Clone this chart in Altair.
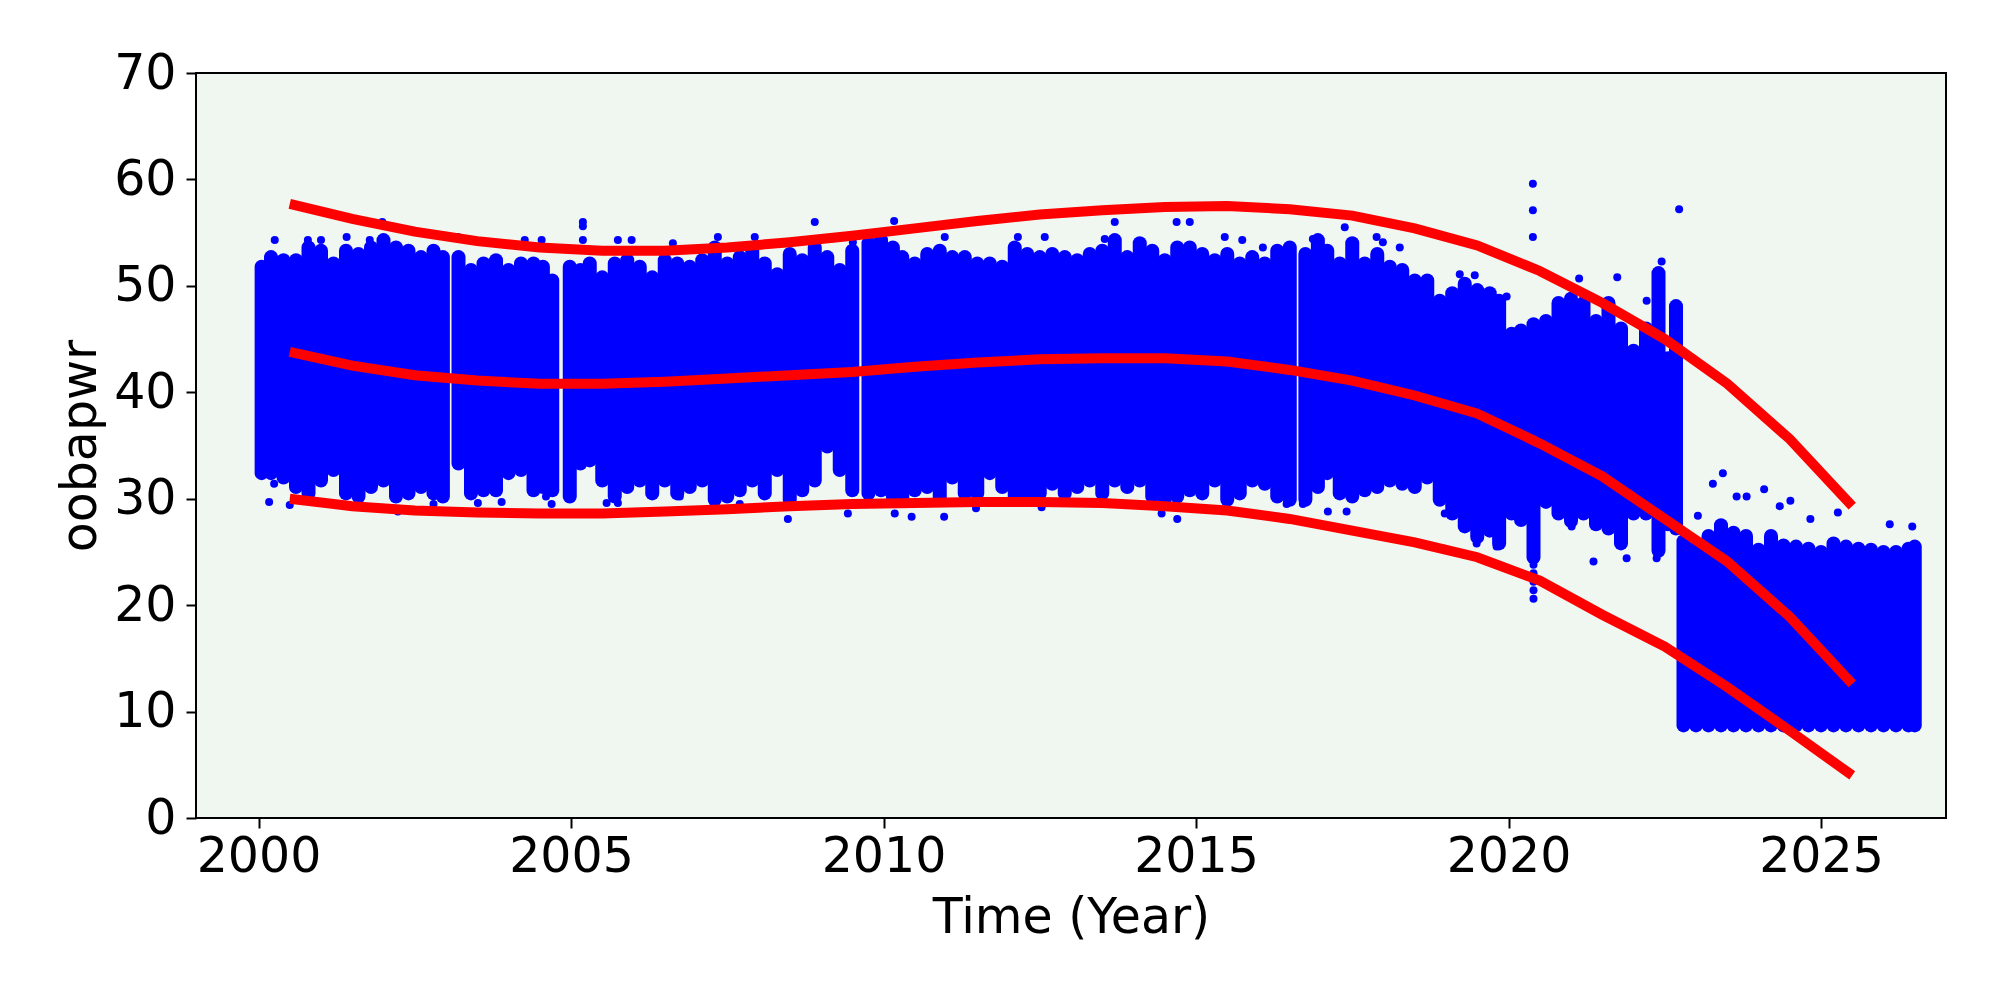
import altair as alt
import pandas as pd

# ---- dense scatter cloud, read as vertical extents (year, low, high) ----
cloud_x = [2000.05, 2000.2, 2000.4, 2000.6, 2000.8, 2001.0, 2001.2, 2001.4, 2001.6, 2001.8,
           2002.0, 2002.2, 2002.4, 2002.6, 2002.8, 2002.95, 2003.2, 2003.4, 2003.6, 2003.8,
           2004.0, 2004.2, 2004.4, 2004.55, 2004.7,
           2004.98, 2005.15, 2005.3, 2005.5, 2005.7, 2005.9, 2006.1, 2006.3, 2006.5, 2006.7,
           2006.9, 2007.1, 2007.3, 2007.5, 2007.7, 2007.9, 2008.1, 2008.3, 2008.5, 2008.7,
           2008.9, 2009.1, 2009.3, 2009.5,
           2009.76, 2009.96, 2010.15, 2010.3, 2010.5, 2010.7, 2010.9, 2011.1, 2011.3, 2011.5,
           2011.7, 2011.9, 2012.1, 2012.3, 2012.5, 2012.7, 2012.9, 2013.1, 2013.3, 2013.5,
           2013.7, 2013.9, 2014.1, 2014.3, 2014.5, 2014.7, 2014.9, 2015.1, 2015.3, 2015.5,
           2015.7, 2015.9, 2016.1, 2016.3, 2016.5,
           2016.75, 2016.95, 2017.1, 2017.3, 2017.5, 2017.7, 2017.9, 2018.1, 2018.3, 2018.5,
           2018.7, 2018.9, 2019.1, 2019.3, 2019.5, 2019.7, 2019.85,
           2020.05, 2020.2, 2020.4, 2020.6, 2020.8, 2021.0, 2021.2, 2021.4, 2021.6, 2021.8,
           2022.0, 2022.2, 2022.4, 2022.55, 2022.68,
           2022.8, 2023.0, 2023.2, 2023.4, 2023.6, 2023.8, 2024.0, 2024.2, 2024.4, 2024.6,
           2024.8, 2025.0, 2025.2, 2025.4, 2025.6, 2025.8, 2026.0, 2026.2, 2026.4, 2026.5]
cloud_hi = [51.8, 52.7, 52.4, 52.4, 53.6, 53.3, 52.1, 53.3, 53.0, 53.6,
            54.3, 53.6, 53.3, 52.7, 53.3, 52.7, 52.7, 51.5, 52.1, 52.4,
            51.5, 52.1, 52.1, 51.8, 50.5,
            51.8, 51.5, 52.1, 50.8, 52.1, 52.4, 51.8, 50.8, 52.4, 52.1,
            51.8, 52.4, 53.6, 52.1, 52.7, 53.3, 52.1, 51.1, 53.0, 52.4,
            53.6, 52.7, 51.5, 53.3,
            54.0, 54.3, 53.6, 52.7, 52.1, 53.0, 53.3, 52.7, 52.7, 52.1,
            52.1, 51.8, 53.6, 53.0, 52.7, 53.0, 52.7, 52.4, 53.0, 53.3,
            54.3, 52.7, 54.0, 53.3, 52.4, 53.6, 53.6, 53.0, 52.4, 53.0,
            52.1, 52.7, 52.1, 53.3, 53.6,
            53.0, 54.3, 53.3, 52.1, 54.0, 52.1, 53.0, 51.8, 51.5, 50.5,
            50.5, 48.6, 49.3, 50.2, 49.6, 49.3, 48.6,
            45.5, 45.8, 46.4, 46.7, 48.4, 48.8, 48.4, 46.7, 48.4, 46.0,
            43.9, 46.0, 51.2, 43.2, 48.1,
            26.0, 25.5, 26.5, 27.5, 26.8, 26.5, 25.2, 26.5, 25.6, 25.5,
            25.3, 25.0, 25.8, 25.5, 25.3, 25.2, 25.0, 25.0, 25.3, 25.5]
cloud_lo = [32.4, 32.4, 32.0, 31.1, 30.5, 31.7, 32.7, 30.5, 30.2, 31.1,
            31.7, 30.2, 30.5, 31.1, 30.5, 30.2, 33.3, 30.5, 30.8, 30.8,
            32.4, 32.7, 30.8, 31.1, 30.8,
            30.2, 33.3, 33.6, 31.7, 30.2, 31.1, 31.7, 30.5, 31.7, 30.5,
            31.1, 31.7, 29.9, 30.2, 30.8, 31.7, 30.5, 32.7, 29.9, 30.8,
            31.7, 34.9, 32.7, 30.8,
            30.5, 30.8, 30.2, 29.9, 30.8, 31.1, 29.9, 32.0, 30.5, 30.5,
            32.4, 31.1, 30.2, 29.9, 30.5, 31.4, 30.5, 31.1, 31.7, 30.5,
            31.7, 31.1, 31.7, 30.2, 29.9, 30.2, 30.8, 30.5, 31.7, 29.9,
            30.5, 31.7, 31.4, 30.2, 29.9,
            29.9, 31.1, 32.4, 30.5, 30.2, 30.8, 31.1, 31.7, 31.4, 31.1,
            32.0, 29.9, 28.6, 27.4, 26.4, 27.0, 25.8,
            28.6, 28.0, 24.5, 29.7, 28.6, 27.9, 28.6, 27.6, 27.2, 25.8,
            28.6, 28.6, 25.1, 27.6, 27.2,
            8.7, 8.7, 8.7, 8.7, 8.7, 8.7, 8.7, 8.7, 8.7, 8.7,
            8.7, 8.7, 8.7, 8.7, 8.7, 8.7, 8.7, 8.7, 8.7, 8.7]

# ---- isolated scatter points outside the dense mass ----
dot_x = [2000.26, 2000.79, 2001.0, 2001.41, 2001.78, 2001.98, 2003.19, 2004.26, 2004.53,
         2005.19, 2005.19, 2005.19, 2005.75, 2005.97, 2006.63,
         2007.35, 2007.94, 2008.9, 2009.51, 2010.17, 2010.98, 2012.15, 2012.58, 2013.54,
         2013.70, 2014.69, 2014.9, 2015.46, 2015.74, 2016.07, 2016.87, 2017.38, 2017.89,
         2017.99, 2018.26, 2019.22, 2019.46, 2019.97,
         2020.39, 2020.39, 2020.39, 2021.13, 2021.74, 2022.21, 2022.45, 2022.73,
         2000.17, 2000.25, 2000.5, 2001.0, 2002.23, 2002.8, 2003.51, 2003.89, 2004.6,
         2004.69, 2005.57, 2005.75, 2006.74, 2007.70, 2008.47, 2009.43, 2010.18, 2010.45,
         2010.97, 2011.48, 2012.53, 2014.45, 2014.70, 2016.45, 2016.71, 2017.11, 2017.41,
         2018.98, 2018.98, 2019.49, 2019.81,
         2020.40, 2020.40, 2020.40, 2020.40, 2020.40, 2021.01, 2021.36, 2021.89, 2022.37,
         2023.03, 2023.27, 2023.43, 2023.65, 2023.81, 2024.09, 2024.34, 2024.51, 2024.83,
         2025.27, 2026.1, 2026.46]
dot_y = [54.3, 54.3, 54.3, 54.6, 54.3, 56.0, 54.6, 54.3, 54.3,
         56.0, 55.6, 54.3, 54.3, 54.3, 54.0,
         54.6, 54.6, 56.0, 54.1, 56.1, 54.6, 54.6, 54.6, 54.4,
         56.0, 56.0, 56.0, 54.6, 54.3, 53.6, 54.4, 55.5, 54.6,
         54.1, 53.6, 51.1, 51.0, 49.0,
         59.6, 57.1, 54.6, 50.7, 50.8, 48.6, 52.3, 57.2,
         29.7, 31.4, 29.4, 29.6, 28.8, 29.5, 29.6, 29.7, 30.2,
         29.5, 29.6, 29.6, 30.2, 29.5, 28.1, 28.6, 28.6, 28.3,
         28.3, 29.1, 29.2, 28.6, 28.1, 29.5, 29.5, 28.8, 28.8,
         28.6, 25.3, 25.8, 25.5,
         20.6, 21.4, 22.2, 23.0, 23.8, 27.4, 24.1, 24.4, 24.4,
         28.4, 31.4, 32.4, 30.2, 30.2, 30.9, 29.3, 29.8, 28.1,
         28.7, 27.6, 27.4]

# ---- fitted curves (red) ----
fit_x = [2000.5, 2001.5, 2002.5, 2003.5, 2004.5, 2005.5, 2006.5, 2007.5, 2008.5, 2009.5,
         2010.5, 2011.5, 2012.5, 2013.5, 2014.5, 2015.5, 2016.5, 2017.5, 2018.5, 2019.5,
         2020.5, 2021.5, 2022.5, 2023.5, 2024.5, 2025.5]
fit_upper = [57.7, 56.3, 55.1, 54.2, 53.6, 53.3, 53.3, 53.6, 54.1, 54.7,
             55.4, 56.1, 56.7, 57.1, 57.4, 57.5, 57.2, 56.6, 55.4, 53.8,
             51.4, 48.4, 45.0, 40.8, 35.6, 29.3]
fit_middle = [43.8, 42.5, 41.6, 41.1, 40.8, 40.8, 41.0, 41.3, 41.6, 41.9,
              42.4, 42.8, 43.1, 43.2, 43.2, 42.9, 42.1, 41.1, 39.7, 38.0,
              35.2, 32.1, 28.1, 24.1, 18.9, 12.6]
fit_lower = [30.0, 29.3, 28.9, 28.7, 28.6, 28.6, 28.8, 29.0, 29.3, 29.5,
             29.6, 29.7, 29.7, 29.6, 29.3, 28.9, 28.1, 27.0, 25.9, 24.5,
             22.3, 19.1, 16.1, 12.3, 8.2, 4.0]

cloud = pd.DataFrame({"t": cloud_x, "lo": cloud_lo, "hi": cloud_hi})
dots = pd.DataFrame({"t": dot_x, "v": dot_y})
fits = pd.concat([
    pd.DataFrame({"t": fit_x, "v": fit_upper, "curve": "upper"}),
    pd.DataFrame({"t": fit_x, "v": fit_middle, "curve": "middle"}),
    pd.DataFrame({"t": fit_x, "v": fit_lower, "curve": "lower"}),
])

FONT = "DejaVu Sans"
xscale = alt.Scale(domain=[1999, 2027], nice=False, zero=False)
yscale = alt.Scale(domain=[0, 70], nice=False)
xaxis = alt.Axis(values=[2000, 2005, 2010, 2015, 2020, 2025], format="d",
                 title="Time (Year)", grid=False, domain=False,
                 tickSize=10, tickWidth=2, tickColor="black",
                 labelFontSize=49, labelColor="black", labelPadding=4,
                 titleFontSize=49, titleFontWeight="normal", titleColor="black",
                 titlePadding=12, labelFont=FONT, titleFont=FONT)
yaxis = alt.Axis(values=[0, 10, 20, 30, 40, 50, 60, 70], format="d",
                 title="oobapwr", grid=False, domain=False,
                 tickSize=10, tickWidth=2, tickColor="black",
                 labelFontSize=49, labelColor="black", labelPadding=10,
                 titleFontSize=49, titleFontWeight="normal", titleColor="black",
                 titlePadding=8, labelFont=FONT, titleFont=FONT)

cloud_layer = alt.Chart(cloud).mark_rule(color="#0000ff", strokeWidth=14, strokeCap="round").encode(
    x=alt.X("t:Q", scale=xscale, axis=xaxis),
    y=alt.Y("lo:Q", scale=yscale, axis=yaxis),
    y2="hi:Q",
)
dot_layer = alt.Chart(dots).mark_circle(color="#0000ff", size=64, opacity=1).encode(
    x=alt.X("t:Q", scale=xscale),
    y=alt.Y("v:Q", scale=yscale),
)
fit_layer = alt.Chart(fits).mark_line(color="#ff0000", strokeWidth=10, strokeCap="butt").encode(
    x=alt.X("t:Q", scale=xscale),
    y=alt.Y("v:Q", scale=yscale),
    detail="curve:N",
)

chart = alt.layer(cloud_layer, dot_layer, fit_layer).properties(
    width=1750, height=745,
    autosize=alt.AutoSizeParams(type="none"),
    padding={"left": 188, "top": 65, "right": 40, "bottom": 170},
    background="white",
).configure(
    font=FONT,
    view=alt.ViewConfig(fill="#f0f7f1", stroke="black", strokeWidth=2),
)

chart.save("out.html", embed_options={"renderer": "svg", "actions": False})
